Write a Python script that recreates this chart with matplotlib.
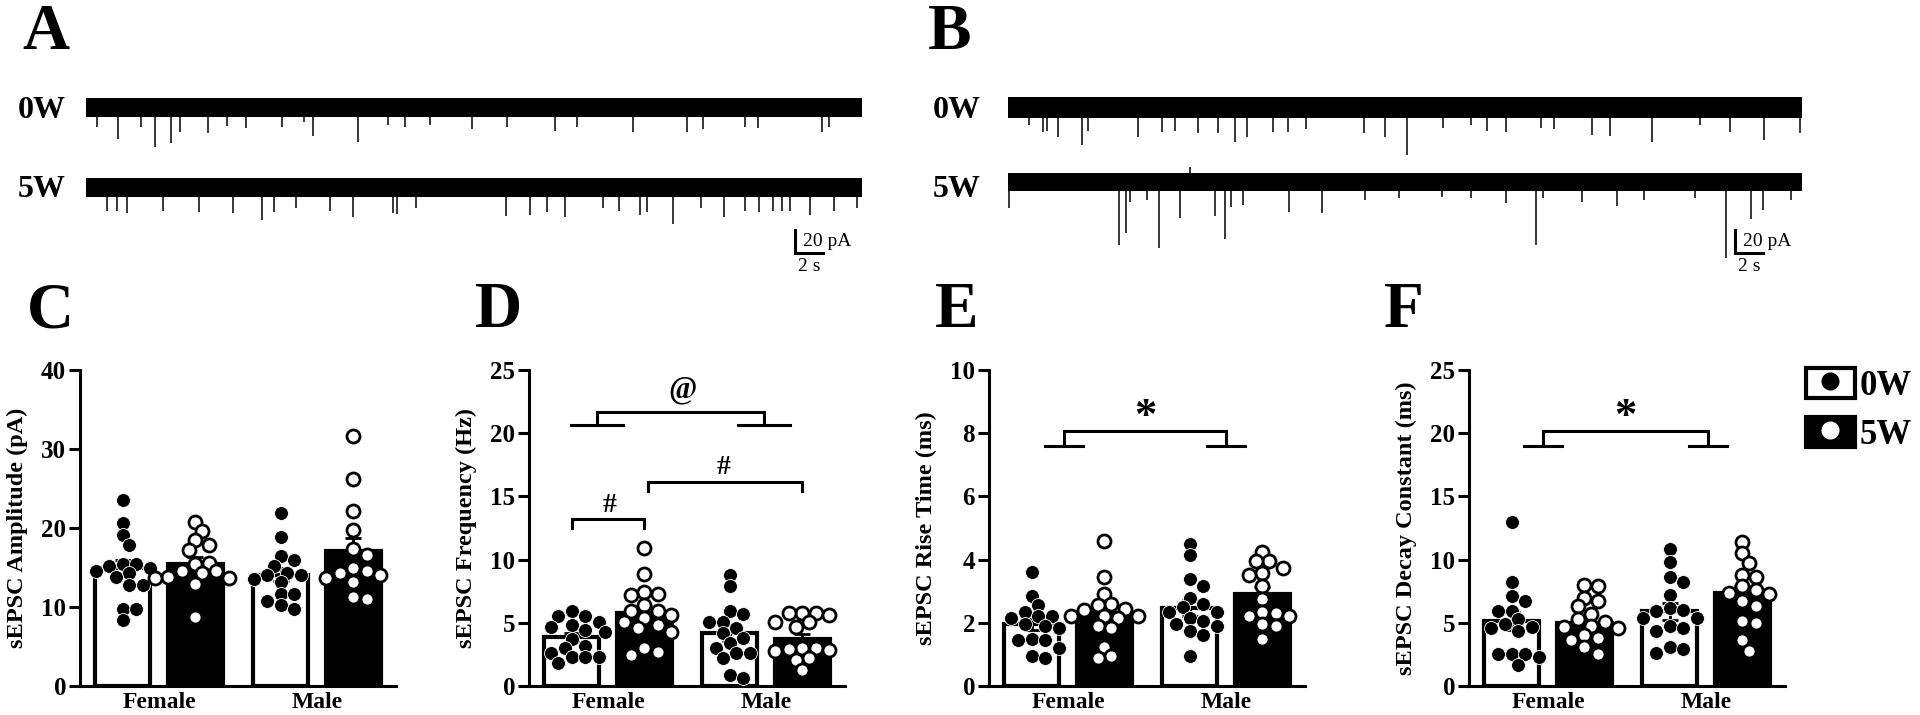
import numpy as np
import matplotlib.pyplot as plt
from matplotlib.patches import Patch
from matplotlib.lines import Line2D

plt.rcParams['font.family'] = ['Liberation Serif', 'DejaVu Serif']
plt.rcParams['font.weight'] = 'bold'
plt.rcParams['axes.labelweight'] = 'bold'

# ---------------- data ----------------
groups = ['Female', 'Male']
weeks = ['0W', '5W']

# sEPSC amplitude (pA)
amp_f0 = [23.5, 20.6, 19.1, 17.8, 15.5, 15.5, 15.2, 15.0, 14.6, 14.3, 13.8, 12.8, 12.8, 9.8, 9.8, 8.4]
amp_f5 = [20.7, 19.6, 18.5, 17.9, 17.2, 15.4, 15.6, 14.5, 14.5, 14.3, 13.8, 13.7, 13.7, 12.9, 8.7]
amp_m0 = [21.9, 18.8, 16.4, 15.9, 15.2, 14.3, 14.1, 14.1, 13.5, 13.2, 11.7, 11.7, 10.7, 10.3, 9.8]
amp_m5 = [31.6, 26.2, 22.2, 19.7, 17.4, 16.6, 14.9, 14.6, 14.3, 14.1, 13.7, 13.2, 11.3, 11.0]
amp_mean = [14.9, 15.4, 14.1, 17.1]
amp_sem = [1.0, 0.9, 0.8, 1.6]

# sEPSC frequency (Hz)
freq_f0 = [5.9, 5.5, 5.5, 5.1, 4.8, 4.7, 4.4, 4.3, 3.7, 3.2, 3.0, 2.6, 2.3, 2.3, 2.3, 1.8]
freq_f5 = [10.9, 8.9, 7.4, 7.25, 7.2, 6.4, 5.9, 5.9, 5.6, 5.4, 5.1, 4.8, 4.6, 4.3, 3.0, 2.7, 2.45]
freq_m0 = [8.8, 7.9, 5.9, 5.7, 5.1, 5.1, 4.6, 4.2, 3.8, 3.4, 3.0, 2.6, 2.6, 2.2, 0.9, 0.6]
freq_m5 = [5.8, 5.8, 5.75, 5.6, 5.1, 5.1, 4.7, 3.0, 3.0, 2.9, 2.85, 2.8, 2.2, 2.05, 1.3]
freq_mean = [3.85, 5.8, 4.2, 3.7]
freq_sem = [0.35, 0.55, 0.65, 0.45]

# sEPSC rise time (ms)
rise_f0 = [3.6, 2.85, 2.55, 2.35, 2.2, 2.2, 2.15, 1.95, 1.9, 1.85, 1.5, 1.45, 1.45, 1.2, 0.95, 0.9]
rise_f5 = [4.6, 3.45, 2.9, 2.6, 2.55, 2.45, 2.4, 2.2, 2.2, 2.2, 2.15, 1.9, 1.85, 1.25, 0.95, 0.9]
rise_m0 = [4.5, 4.15, 3.4, 3.15, 2.8, 2.6, 2.5, 2.35, 2.35, 2.15, 2.05, 1.95, 1.9, 1.75, 1.6, 0.95]
rise_m5 = [4.25, 3.97, 3.95, 3.75, 3.57, 3.5, 3.15, 2.75, 2.35, 2.3, 2.2, 2.2, 1.95, 1.9, 1.5]
rise_mean = [1.95, 2.3, 2.46, 2.91]
rise_sem = [0.17, 0.25, 0.25, 0.22]

# sEPSC decay constant (ms)
decay_f0 = [13.0, 8.2, 7.1, 6.7, 5.97, 5.9, 5.3, 4.9, 4.7, 4.6, 4.35, 2.5, 2.5, 2.5, 2.3, 1.7]
decay_f5 = [8.0, 7.9, 7.0, 6.7, 6.3, 5.7, 5.3, 5.1, 4.75, 4.7, 4.6, 4.0, 3.8, 3.6, 3.05, 2.5]
decay_m0 = [10.85, 9.8, 8.65, 8.25, 7.2, 6.2, 6.0, 5.95, 5.4, 5.4, 4.75, 4.6, 4.35, 3.05, 2.9, 2.65]
decay_m5 = [11.4, 10.5, 9.7, 8.8, 8.6, 7.9, 7.6, 7.35, 7.3, 6.7, 6.3, 5.15, 5.0, 3.6, 2.8]
decay_mean = [5.14, 5.0, 5.9, 7.35]
decay_sem = [0.7, 0.4, 0.65, 0.6]

# example traces: event times (s) and amplitudes (pA, downward)
a0_t = [0.8, 2.3, 3.9, 4.9, 6.1, 6.7, 8.7, 10.1, 11.4, 14.0, 15.6, 16.2, 19.4, 21.6, 22.8, 24.6, 27.6,
        30.1, 33.5, 35.1, 39.1, 42.9, 44.1, 47.1, 48.0, 52.6, 53.1]
a0_a = [17, 27, 17, 34, 31, 21, 22, 16, 18, 17, 13, 25, 30, 15, 17, 15, 19,
        17, 20, 17, 21, 21, 19, 17, 18, 21, 17]
a5_t = [1.5, 2.2, 2.9, 5.5, 8.1, 10.5, 12.6, 13.4, 15.0, 17.4, 19.1, 21.9, 22.2, 23.6, 30.0, 31.7, 32.9,
        34.2, 36.9, 38.1, 39.6, 40.1, 41.9, 43.9, 45.6, 47.1, 48.1, 49.1, 49.7, 50.3, 51.7, 53.4, 55.1]
a5_a = [20, 20, 22, 20, 21, 22, 28, 21, 18, 20, 26, 22, 23, 18, 25, 24, 21,
        26, 18, 20, 24, 21, 32, 18, 26, 20, 21, 20, 20, 20, 24, 20, 18]
b0_t = [1.5, 2.5, 2.8, 3.6, 5.3, 5.7, 9.3, 11.0, 11.9, 13.6, 15.0, 16.2, 17.1, 18.9, 20.0, 21.3, 25.4,
        26.9, 28.5, 31.1, 33.1, 34.2, 35.6, 38.1, 39.0, 41.7, 43.0, 46.0, 49.4, 51.6, 54.0, 56.6]
b0_a = [15, 21, 20, 26, 33, 20, 26, 21, 20, 22, 22, 30, 26, 21, 21, 19, 22,
        26, 41, 18, 15, 20, 21, 18, 19, 24, 25, 30, 15, 21, 28, 22]
b5_t = [0.1, 7.9, 8.4, 8.7, 9.9, 10.8, 12.3, 13.0, 14.8, 15.5, 15.9, 16.8, 20.1, 22.4, 25.5, 27.9,
        31.0, 33.1, 35.6, 37.7, 38.2, 41.0, 43.5, 45.4, 49.1, 51.3, 53.1, 53.9, 55.9]
b5_a = [23, 55, 44, 17, 16, 57, 31, -13, 30, 50, 22, 20, 26, 27, 16, 14,
        13, 14, 18, 55, 14, 17, 21, 16, 14, 66, 32, 24, 16]

W, H = 1920, 715
fig = plt.figure(figsize=(W / 100, H / 100), dpi=100)


def px_axes(x0, y0, x1, y1):
    # axes placed by pixel box (top-left origin)
    return fig.add_axes([x0 / W, 1 - y1 / H, (x1 - x0) / W, (y1 - y0) / H])


def fig_text(x, y, s, **kw):
    fig.text(x / W, 1 - y / H, s, **kw)


# ---------------- traces (A, B) ----------------
PX_PER_S = 14.0
PX_PER_PA = 1.15


def draw_traces(x0, x1, row_px, rows, bar_x_px):
    ax = px_axes(x0, 80, x1, 285)
    top = row_px[0]
    ax.set_xlim(0, (x1 - x0) / PX_PER_S)
    ax.set_ylim((top - 285) / PX_PER_PA, (top - 80) / PX_PER_PA)
    ax.axis('off')
    t_end = (x1 - x0) / PX_PER_S
    for rp, (ev_t, ev_a, hw) in zip(row_px, rows):
        base = (top - rp) / PX_PER_PA
        ax.fill_between([0, t_end], base - hw, base + hw, color='black', lw=0)
        ax.vlines(ev_t, base, base - np.array(ev_a), color='black', lw=1.1)
    # scale bar 20 pA / 2 s
    sx = (bar_x_px - x0) / PX_PER_S
    y_hi = (top - 230) / PX_PER_PA
    y_lo = y_hi - 20
    ax.plot([sx, sx, sx + 2], [y_hi, y_lo, y_lo], color='black', lw=2.2, clip_on=False,
            solid_joinstyle='miter')
    ax.text(sx + 0.55, (y_hi + y_lo) / 2, '20 pA', fontsize=14, fontweight='normal',
            ha='left', va='center')
    ax.text(sx + 1.0, y_lo - 4, '2 s', fontsize=14, fontweight='normal',
            ha='center', va='top')


draw_traces(86, 862, [107.5, 187.5], [(a0_t, a0_a, 8.5), (a5_t, a5_a, 8.5)], 795)
draw_traces(1008, 1802, [107.5, 182.0], [(b0_t, b0_a, 9.0), (b5_t, b5_a, 7.5)], 1735)

for x, y, s in [(18, 118, '0W'), (18, 197, '5W'), (933, 118, '0W'), (933, 197, '5W')]:
    fig_text(x, y, s, fontsize=23, va='baseline')

for x, y, s in [(22, 49, 'A'), (928, 49, 'B'), (27, 327, 'C'), (475, 327, 'D'),
                (935, 327, 'E'), (1384, 327, 'F')]:
    fig_text(x, y, s, fontsize=47, va='baseline')

# ---------------- bar panels (C-F) ----------------
AX_TOP, AX_BOT, AX_W = 370, 686, 316
PX_PER_X = AX_W / 2.0
DOT_PX = 13.5
positions = [0.5 - 0.231, 0.5 + 0.231, 1.5 - 0.231, 1.5 + 0.231]


def swarm_x(vals, center, ymax):
    # simple beeswarm: nearest free slot beside the bar centre
    ys = np.asarray(vals) * (AX_BOT - AX_TOP) / ymax
    placed, xs = [], []
    for y in ys:
        for k in [0, 1, -1, 2, -2, 3, -3, 4, -4, 5, -5, 6, -6]:
            x = k * DOT_PX * 0.5
            if all((x - px) ** 2 + (y - py) ** 2 >= (DOT_PX * 0.8) ** 2 for px, py in placed):
                break
        placed.append((x, y))
        xs.append(center + x / PX_PER_X)
    return xs


def bar_panel(left, ylabel, ymax, step, pts, means, sems, brackets):
    ax = px_axes(left, AX_TOP, left + AX_W, AX_BOT)
    for i, (pos, m, s) in enumerate(zip(positions, means, sems)):
        face = 'white' if i % 2 == 0 else 'black'
        ax.bar(pos, m, width=0.35, color=face, edgecolor='black', linewidth=3, zorder=2)
        ax.errorbar(pos, m, yerr=s, color='black', capsize=6, elinewidth=2, capthick=2, zorder=2.5)
        xs = swarm_x(pts[i], pos, ymax)
        if i % 2 == 0:
            ax.scatter(xs, pts[i], s=100, facecolor='black', edgecolor='white', linewidth=0.6,
                       zorder=3, clip_on=False)
        else:
            ax.scatter(xs, pts[i], s=88, facecolor='white', edgecolor='black', linewidth=2,
                       zorder=3, clip_on=False)
    ax.set_xlim(0, 2)
    ax.set_ylim(0, ymax)
    ax.set_yticks(np.arange(0, ymax + 0.01, step))
    ax.set_xticks([0.5, 1.5])
    ax.set_xticklabels(groups, fontsize=17)
    ax.tick_params(axis='x', length=0, pad=4)
    ax.tick_params(axis='y', length=8, width=2.2, labelsize=18, pad=2)
    for sp in ['top', 'right']:
        ax.spines[sp].set_visible(False)
    for sp in ['left', 'bottom']:
        ax.spines[sp].set_linewidth(2.2)
    ax.set_ylabel(ylabel, fontsize=17.5)
    ax.yaxis.set_label_coords(-0.165, 0.5)
    for b in brackets:
        kind = b[0]
        if kind == 'cap':
            _, x1, x2, ytop, ylow, sym, tx, ty, fs = b
            ax.plot([x1, x1, x2, x2], [ylow, ytop, ytop, ylow], color='black', lw=2.2,
                    clip_on=False, solid_joinstyle='miter')
        else:
            _, x1, x2, ytop, ylow, half, sym, tx, ty, fs = b
            ax.plot([x1, x1, x2, x2], [ylow, ytop, ytop, ylow], color='black', lw=2.2,
                    clip_on=False, solid_joinstyle='miter')
            ax.plot([x1 - half, x1 + half], [ylow, ylow], color='black', lw=2.2, clip_on=False)
            ax.plot([x2 - half, x2 + half], [ylow, ylow], color='black', lw=2.2, clip_on=False)
        ax.text(tx, ty, sym, fontsize=fs, ha='center', va='center')
    return ax


bar_panel(80, 'sEPSC Amplitude (pA)', 40, 10,
          [amp_f0, amp_f5, amp_m0, amp_m5], amp_mean, amp_sem, [])
bar_panel(529, 'sEPSC Frequency (Hz)', 25, 5,
          [freq_f0, freq_f5, freq_m0, freq_m5], freq_mean, freq_sem,
          [('foot', 0.43, 1.49, 21.65, 20.65, 0.165, '@', 0.97, 23.4, 22),
           ('cap', 0.27, 0.73, 13.2, 12.5, '#', 0.51, 14.3, 20),
           ('cap', 0.755, 1.73, 16.1, 15.4, '#', 1.23, 17.3, 20)])
bar_panel(989, 'sEPSC Rise Time (ms)', 10, 2,
          [rise_f0, rise_f5, rise_m0, rise_m5], rise_mean, rise_sem,
          [('foot', 0.475, 1.5, 8.07, 7.6, 0.12, '*', 0.99, 8.5, 32)])
bar_panel(1469, 'sEPSC Decay Constant (ms)', 25, 5,
          [decay_f0, decay_f5, decay_m0, decay_m5], decay_mean, decay_sem,
          [('foot', 0.47, 1.51, 20.2, 18.95, 0.12, '*', 0.99, 21.3, 32)])

# legend
handles = [(Patch(facecolor='white', edgecolor='black', linewidth=3),
            Line2D([], [], marker='o', ls='none', mfc='black', mec='black', ms=12)),
           (Patch(facecolor='black', edgecolor='black', linewidth=3),
            Line2D([], [], marker='o', ls='none', mfc='white', mec='white', ms=12))]
fig.legend(handles, weeks, loc='upper left', bbox_to_anchor=(1806 / W, 1 - 368 / H),
           frameon=False, borderpad=0, borderaxespad=0, prop={'size': 25, 'weight': 'bold'},
           handlelength=1.4, handleheight=0.95, handletextpad=0.15, labelspacing=0.4)

fig.savefig('out.png', dpi=100)
